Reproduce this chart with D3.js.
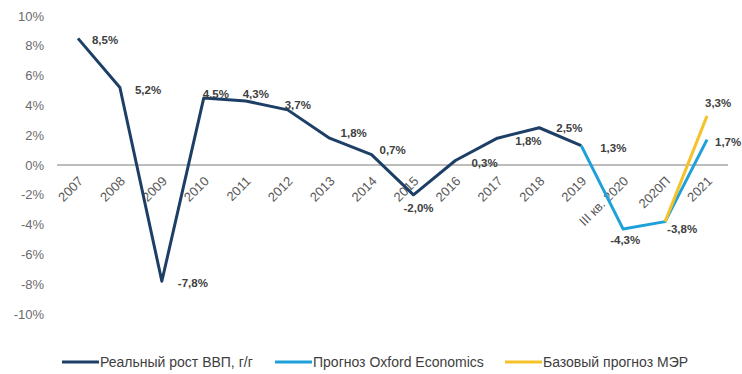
<!DOCTYPE html>
<html>
<head>
<meta charset="utf-8">
<script src="https://cdn.jsdelivr.net/npm/d3@7"></script>
<style>
  body { margin: 0; background: #fff; }
  svg { font-family: "Liberation Sans", Arial, sans-serif; }
</style>
</head>
<body>
<div id="canvas"></div>
<script>
// categories and series
var categories = ['2007','2008','2009','2010','2011','2012','2013','2014','2015','2016','2017','2018','2019','III кв. 2020','2020П','2021'];
var realGdp = [8.5, 5.2, -7.8, 4.5, 4.3, 3.7, 1.8, 0.7, -2.0, 0.3, 1.8, 2.5, 1.3];
var oxfordCats = ['2019','III кв. 2020','2020П','2021'];
var oxfordVals = [1.3, -4.3, -3.8, 1.7];
var merCats = ['2020П','2021'];
var merVals = [-3.8, 3.3];
var yTicks = [-10,-8,-6,-4,-2,0,2,4,6,8,10];
var legendNames = ['Реальный рост ВВП, г/г','Прогноз Oxford Economics','Базовый прогноз МЭР'];

var colors = ['#1d3f66', '#1ea1d8', '#f6c22a'];

var W = 742, H = 374;
var m = {t:16, r:14, b:60, l:57};

var svg = d3.select('#canvas').append('svg')
  .attr('width', W).attr('height', H);

var x = d3.scaleBand().domain(categories).range([m.l, W - m.r]);
var y = d3.scaleLinear().domain([-10, 10]).range([H - m.b, m.t]);
function cx(c){ return x(c) + x.bandwidth()/2; }

// y axis (labels only)
var axisY = d3.axisLeft(y).tickValues(yTicks).tickSize(0).tickPadding(13)
  .tickFormat(function(d){ return d + '%'; });
var gy = svg.append('g').attr('transform','translate(' + m.l + ',0)').call(axisY);
gy.select('.domain').remove();
gy.selectAll('text').attr('fill','#6b6b6b').style('font-size','13px').attr('font-family','Liberation Sans, Arial');

// zero line
svg.append('line')
  .attr('x1', m.l).attr('x2', W - m.r)
  .attr('y1', y(0)).attr('y2', y(0))
  .attr('stroke', '#7a7a7a').attr('stroke-width', 1);

// x labels rotated
var axisX = d3.axisBottom(x).tickSize(0).tickPadding(0);
var gx = svg.append('g').attr('transform','translate(0,' + y(0) + ')').call(axisX);
gx.select('.domain').remove();
gx.selectAll('text')
  .attr('fill','#595959').style('font-size','13px').attr('font-family','Liberation Sans, Arial')
  .attr('text-anchor','end')
  .attr('dy', null).attr('y', 0)
  .attr('transform','translate(6,17) rotate(-45)');

// lines
var line = d3.line().x(function(d){ return cx(d.c); }).y(function(d){ return y(d.v); });
var s1 = realGdp.map(function(v,i){ return {c: categories[i], v: v}; });
var s2 = oxfordVals.map(function(v,i){ return {c: oxfordCats[i], v: v}; });
var s3 = merVals.map(function(v,i){ return {c: merCats[i], v: v}; });

[s1, s2, s3].forEach(function(s, i){
  svg.append('path').datum(s)
    .attr('d', line)
    .attr('fill','none')
    .attr('stroke', colors[i])
    .attr('stroke-width', 3)
    .attr('stroke-linejoin','round');
});

// data labels (offsets are layout only)
var labelOffsets = {
  '2007':[14,6], '2008':[15,6], '2009':[16,6], '2010':[-1,0], '2011':[-3,-3], '2012':[-3,-1],
  '2013':[11,-1], '2014':[8,-1], '2015':[-10,17], '2016':[16,6], '2017':[18,7], '2018':[17,4], '2019':[19,6]
};
var fmt = function(v){ return v.toFixed(1).replace('.', ',') + '%'; };
function addLabel(c, v, dx, dy){
  svg.append('text')
    .attr('x', cx(c) + dx).attr('y', y(v) + dy)
    .attr('fill','#404040').style('font-size','11.5px').style('font-weight','bold')
    .text(fmt(v));
}
s1.forEach(function(d){ var o = labelOffsets[d.c]; addLabel(d.c, d.v, o[0], o[1]); });
addLabel('III кв. 2020', -4.3, -13, 15);
addLabel('2020П', -3.8, 2, 11);
addLabel('2021', 1.7, 8, 6);
addLabel('2021', 3.3, -2, -9);

// legend
var legX = [62, 275, 505];
var leg = svg.append('g');
legendNames.forEach(function(n, i){
  leg.append('line').attr('x1', legX[i]).attr('x2', legX[i] + 37)
    .attr('y1', 362).attr('y2', 362)
    .attr('stroke', colors[i]).attr('stroke-width', 3);
  leg.append('text').attr('x', legX[i] + 38).attr('y', 367)
    .attr('fill','#404040').style('font-size','14px')
    .text(n);
});
</script>
</body>
</html>
